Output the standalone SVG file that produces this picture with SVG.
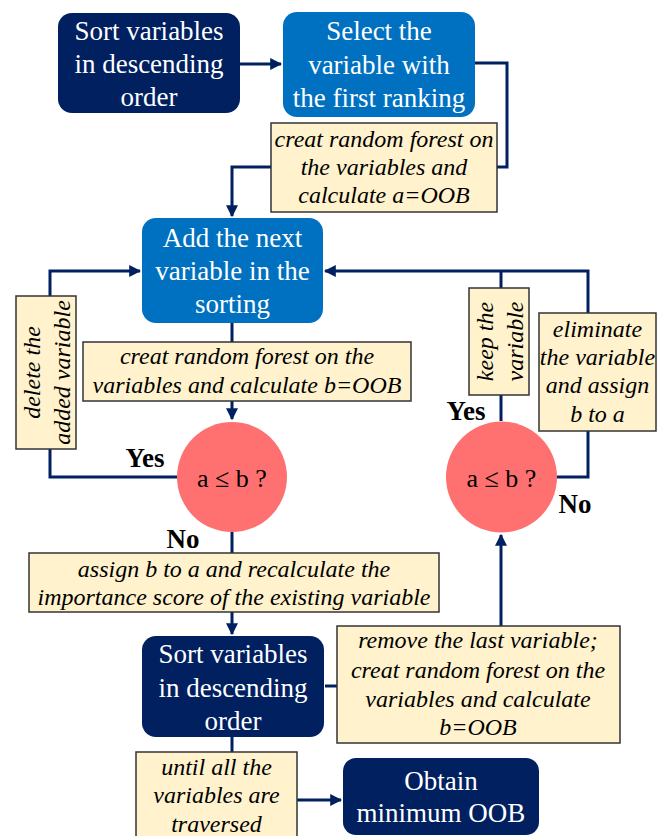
<svg xmlns="http://www.w3.org/2000/svg" width="657" height="836" viewBox="0 0 657 836">
<style>
.navy{fill:#002060}
.blue{fill:#0070C0}
.note{fill:#FFF2CC;stroke:#333333;stroke-width:1.5}
.dec{fill:#FF7171}
text{font-family:'Liberation Serif','Times New Roman',Times,'DejaVu Serif',serif}
.nt{font-size:27px;fill:#ffffff;text-anchor:middle}
.it{font-size:24px;font-style:italic;fill:#000000;text-anchor:middle}
.dt{font-size:26px;fill:#000000;text-anchor:middle}
.yn{font-size:27px;font-weight:bold;fill:#000000;text-anchor:middle}
.ln{fill:none;stroke:#002060;stroke-width:3}
</style>
<defs>
<marker id="ah" viewBox="0 0 10 10" refX="9" refY="5" markerWidth="4" markerHeight="4" orient="auto" markerUnits="strokeWidth">
<path d="M0,0 L10,5 L0,10 z" fill="#002060"/>
</marker>
</defs>
<g id="connectors">
<path class="ln" d="M240,64 L281,64" marker-end="url(#ah)"/>
<path class="ln" d="M475,63 L507,63 L507,167 L232,167 L232,216" marker-end="url(#ah)"/>
<path class="ln" d="M232,323 L232,419" marker-end="url(#ah)"/>
<path class="ln" d="M177,477 L50,477 L50,271 L140,271" marker-end="url(#ah)"/>
<path class="ln" d="M501,421 L501,271"/>
<path class="ln" d="M557,477 L588,477 L588,271 L325,271" marker-end="url(#ah)"/>
<path class="ln" d="M232,532 L232,634" marker-end="url(#ah)"/>
<path class="ln" d="M325,686 L337,686"/>
<path class="ln" d="M501,626 L501,535" marker-end="url(#ah)"/>
<path class="ln" d="M232,737 L232,752"/>
<path class="ln" d="M297,800 L341,800" marker-end="url(#ah)"/>
</g>
<g id="n1">
<rect class="navy" x="58" y="13" width="182" height="100" rx="14"/>
<text class="nt" x="149" y="40">Sort variables</text>
<text class="nt" x="149" y="73">in descending</text>
<text class="nt" x="149" y="106">order</text>
</g>
<g id="n2">
<rect class="blue" x="283" y="12" width="192" height="105" rx="14"/>
<text class="nt" x="379" y="40">Select the</text>
<text class="nt" x="379" y="74">variable with</text>
<text class="nt" x="379" y="107">the first ranking</text>
</g>
<g id="l1">
<rect class="note" x="271" y="123" width="226" height="89"/>
<text class="it" x="384" y="147">creat random forest on</text>
<text class="it" x="384" y="175">the variables and</text>
<text class="it" x="384" y="203">calculate a=OOB</text>
</g>
<g id="n3">
<rect class="blue" x="142" y="218" width="181" height="105" rx="14"/>
<text class="nt" x="232.5" y="247">Add the next</text>
<text class="nt" x="232.5" y="280">variable in the</text>
<text class="nt" x="232.5" y="313">sorting</text>
</g>
<g id="l2">
<rect class="note" x="83" y="342" width="328" height="59"/>
<text class="it" x="247" y="364">creat random forest on the</text>
<text class="it" x="247" y="393">variables and calculate b=OOB</text>
</g>
<g id="l3">
<rect class="note" x="16" y="296" width="60" height="153"/>
<g transform="translate(46,372.5) rotate(-90)">
<text class="it" x="0" y="-6">delete the</text>
<text class="it" x="0" y="24">added variable</text>
</g>
</g>
<g id="d1">
<circle class="dec" cx="232" cy="477" r="55"/>
<text class="dt" x="232" y="487">a ≤ b ?</text>
</g>
<g id="d2">
<circle class="dec" cx="501.5" cy="477" r="55.5"/>
<text class="dt" x="501.5" y="487">a ≤ b ?</text>
</g>
<g id="l4">
<rect class="note" x="469" y="288" width="60" height="107"/>
<g transform="translate(499,341.5) rotate(-90)">
<text class="it" x="0" y="-6">keep the</text>
<text class="it" x="0" y="24">variable</text>
</g>
</g>
<g id="l5">
<rect class="note" x="539" y="313" width="117" height="118"/>
<text class="it" x="597.5" y="337">eliminate</text>
<text class="it" x="597.5" y="365">the variable</text>
<text class="it" x="597.5" y="393">and assign</text>
<text class="it" x="597.5" y="422">b to a</text>
</g>
<g id="labels">
<text class="yn" x="145" y="467">Yes</text>
<text class="yn" x="466" y="420">Yes</text>
<text class="yn" x="575" y="513">No</text>
<text class="yn" x="183" y="548">No</text>
</g>
<g id="l6">
<rect class="note" x="29" y="553" width="410" height="59"/>
<text class="it" x="234" y="577">assign b to a and recalculate the</text>
<text class="it" x="234" y="605">importance score of the existing variable</text>
</g>
<g id="n4">
<rect class="navy" x="142" y="636" width="182" height="101" rx="14"/>
<text class="nt" x="233" y="663">Sort variables</text>
<text class="nt" x="233" y="697">in descending</text>
<text class="nt" x="233" y="730">order</text>
</g>
<g id="l7">
<rect class="note" x="337" y="626" width="283" height="117"/>
<text class="it" x="478" y="648">remove the last variable;</text>
<text class="it" x="478" y="678">creat random forest on the</text>
<text class="it" x="478" y="707">variables and calculate</text>
<text class="it" x="478" y="735">b=OOB</text>
</g>
<g id="l8">
<rect class="note" x="136" y="752" width="161" height="100"/>
<text class="it" x="216.5" y="775">until all the</text>
<text class="it" x="216.5" y="803">variables are</text>
<text class="it" x="216.5" y="832">traversed</text>
</g>
<g id="n5">
<rect class="navy" x="343" y="758" width="196" height="77" rx="13"/>
<text class="nt" x="441" y="790">Obtain</text>
<text class="nt" x="441" y="822">minimum OOB</text>
</g>
</svg>
